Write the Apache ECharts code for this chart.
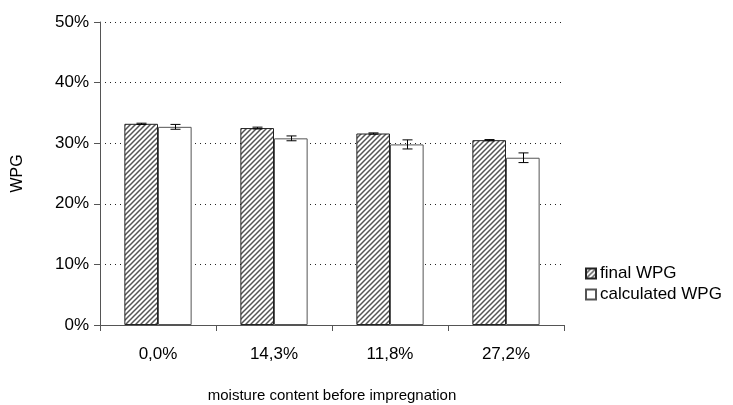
<!DOCTYPE html>
<html>
<head>
<meta charset="utf-8">
<script src="https://cdn.jsdelivr.net/npm/echarts@6/dist/echarts.min.js"></script>
<style>html,body{margin:0;padding:0;background:#fff}#c{width:733px;height:405px}</style>
</head>
<body>
<div id="c"></div>
<script>
var categories = ['0,0%', '14,3%', '11,8%', '27,2%'];
var finalWPG = [33.2, 32.5, 31.6, 30.5];
var finalErr = [0.1, 0.15, 0.1, 0.1];
var calcWPG = [32.7, 30.8, 29.8, 27.6];
var calcErr = [0.4, 0.4, 0.75, 0.8];
var yTicks = [0, 10, 20, 30, 40, 50];

function makeHatch() {
  var c = document.createElement('canvas');
  c.width = 5; c.height = 5;
  var g = c.getContext('2d');
  g.fillStyle = '#ffffff';
  g.fillRect(0, 0, 5, 5);
  g.strokeStyle = '#555555';
  g.lineWidth = 1.5;
  g.beginPath();
  g.moveTo(-1, 6); g.lineTo(6, -1);
  g.moveTo(-4, 4); g.lineTo(4, -4);
  g.moveTo(1, 9); g.lineTo(9, 1);
  g.stroke();
  return c;
}
var hatch = {image: makeHatch(), repeat: 'repeat'};

function errRender(sign, vals, errs) {
  return function (params, api) {
    var i = api.value(0);
    var v = vals[i], e = errs[i];
    var catW = api.size([1, 0])[0];
    var barW = catW * 0.58 / 2;
    var top = api.coord([i, v + e]);
    var bot = api.coord([i, v - e]);
    var x = Math.round(top[0] + sign * barW / 2) + 0.5;
    var hw = 5;
    var st = {stroke: '#000', lineWidth: 1};
    return {type: 'group', children: [
      {type: 'line', shape: {x1: x, y1: top[1], x2: x, y2: bot[1]}, style: st},
      {type: 'line', shape: {x1: x - hw, y1: top[1], x2: x + hw, y2: top[1]}, style: st},
      {type: 'line', shape: {x1: x - hw, y1: bot[1], x2: x + hw, y2: bot[1]}, style: st}
    ]};
  };
}

var chart = echarts.init(document.getElementById('c'));
var font = 'Liberation Sans, Arial, sans-serif';
chart.setOption({
  animation: false,
  textStyle: {fontFamily: font},
  grid: {left: 100, right: 169, top: 22, bottom: 80, containLabel: false, outerBoundsMode: 'none'},
  legend: {
    orient: 'vertical', left: 580, top: 260, itemGap: 4,
    itemWidth: 10, itemHeight: 10, icon: 'rect',
    data: ['final WPG', 'calculated WPG'],
    textStyle: {fontFamily: font, fontSize: 17, color: '#000', padding: [0, 0, 0, -1]}
  },
  xAxis: {
    type: 'category', data: categories,
    name: 'moisture content before impregnation', nameLocation: 'middle', nameGap: 63,
    nameTextStyle: {fontFamily: font, fontSize: 15, color: '#000'},
    axisLine: {lineStyle: {color: '#555', width: 1}},
    axisTick: {show: true, length: 6, lineStyle: {color: '#555'}, alignWithLabel: false},
    axisLabel: {fontFamily: font, fontSize: 17, color: '#000', margin: 21}
  },
  yAxis: {
    type: 'value', min: 0, max: 50, interval: 10,
    name: 'WPG', nameLocation: 'middle', nameGap: 74,
    nameTextStyle: {fontFamily: font, fontSize: 16, color: '#000'},
    axisLine: {show: true, lineStyle: {color: '#555'}},
    axisTick: {show: true, length: 6, lineStyle: {color: '#555'}},
    axisLabel: {fontFamily: font, fontSize: 17, color: '#000', margin: 11,
      formatter: function (v) { return yTicks.indexOf(v) >= 0 ? v + '%' : ''; }},
    splitLine: {show: true, lineStyle: {color: '#222', type: [1, 4], width: 1}}
  },
  series: [
    {name: 'final WPG', type: 'bar', data: finalWPG, barGap: '0%', barCategoryGap: '42%',
     itemStyle: {color: hatch, borderColor: '#222', borderWidth: 1}},
    {name: 'calculated WPG', type: 'bar', data: calcWPG, barGap: '0%', barCategoryGap: '42%',
     itemStyle: {color: '#fff', borderColor: '#555', borderWidth: 1}},
    {type: 'custom', data: categories.map(function (c, i) { return [i]; }),
     renderItem: errRender(-1, finalWPG, finalErr), z: 5, silent: true},
    {type: 'custom', data: categories.map(function (c, i) { return [i]; }),
     renderItem: errRender(1, calcWPG, calcErr), z: 5, silent: true}
  ]
});
</script>
</body>
</html>
